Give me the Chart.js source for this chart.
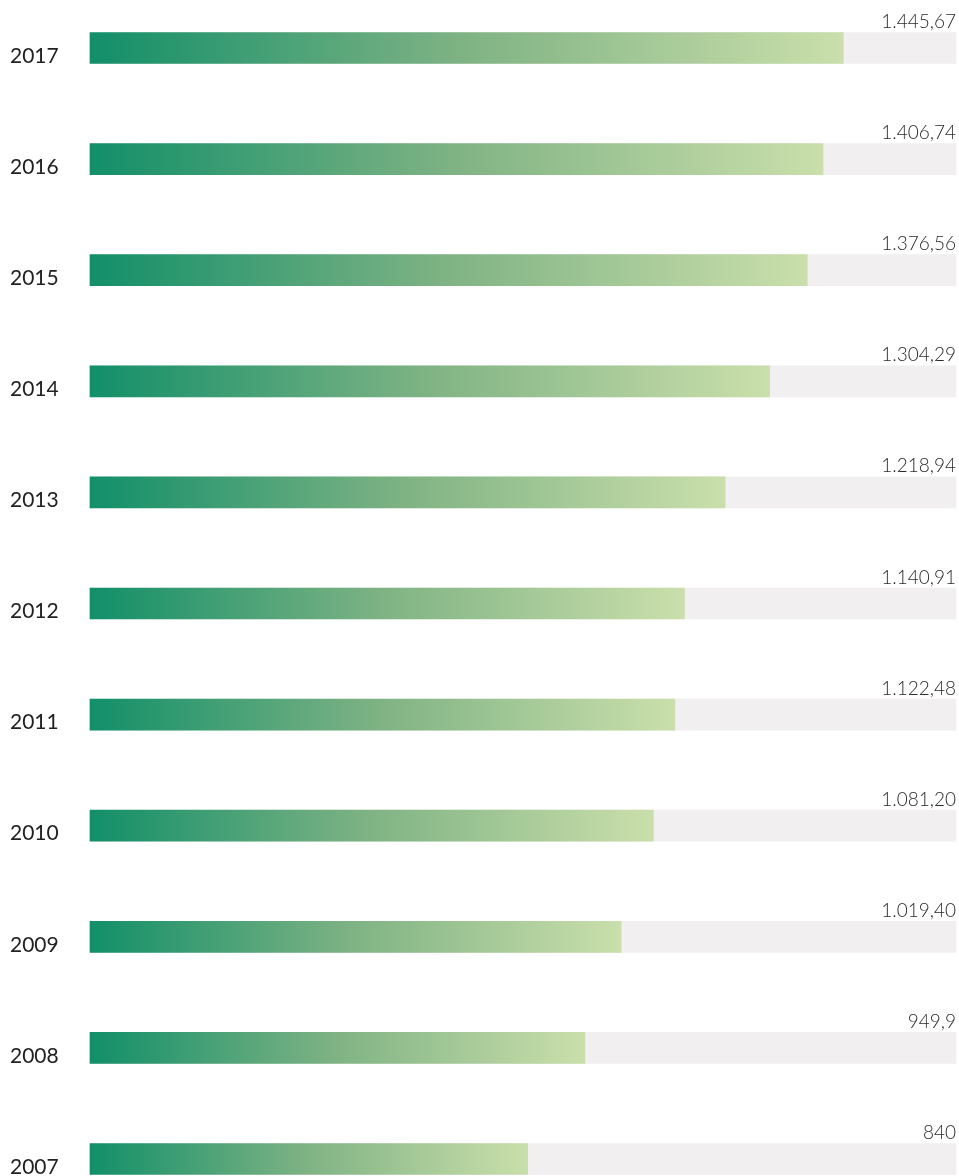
<!DOCTYPE html>
<html>
<head>
<meta charset="utf-8">
<script src="https://cdn.jsdelivr.net/npm/chart.js@4/dist/chart.umd.min.js"></script>
<style>
  html, body { margin: 0; padding: 0; background: #fff; }
  canvas { display: block; }
</style>
</head>
<body>
<canvas id="chart" width="959" height="1176"></canvas>
<script>
const years = ["2017", "2016", "2015", "2014", "2013", "2012", "2011", "2010", "2009", "2008", "2007"];
const values = [1445.67, 1406.74, 1376.56, 1304.29, 1218.94, 1140.91, 1122.48, 1081.20, 1019.40, 949.9, 840];
const valueLabels = ["1.445,67", "1.406,74", "1.376,56", "1.304,29", "1.218,94", "1.140,91", "1.122,48", "1.081,20", "1.019,40", "949,9", "840"];
const axisMax = 1662;

const ctx = document.getElementById("chart");

// gradient runs across each bar's own length
const barGradient = (context) => {
  const chart = context.chart;
  const area = chart.chartArea;
  if (!area || context.type !== "data") return "#5fa07a";
  const xEnd = chart.scales.x.getPixelForValue(context.raw);
  const g = chart.ctx.createLinearGradient(area.left, 0, xEnd, 0);
  g.addColorStop(0, "#128f69");
  g.addColorStop(0.5, "#80b384");
  g.addColorStop(1, "#cadfab");
  return g;
};

const valueLabelPlugin = {
  id: "valueLabels",
  afterDatasetsDraw(chart) {
    const meta = chart.getDatasetMeta(1);
    const c = chart.ctx;
    c.save();
    c.font = "300 19px Lato";
    c.fillStyle = "#2a2a2a";
    c.textAlign = "right";
    c.textBaseline = "alphabetic";
    meta.data.forEach((bar, i) => {
      c.fillText(valueLabels[i], chart.chartArea.right, bar.y - 20);
    });
    c.restore();
  },
};

new Chart(ctx, {
  type: "bar",
  data: {
    labels: years,
    datasets: [
      {
        data: years.map(() => axisMax),
        backgroundColor: "#f1eff0",
        barThickness: 31,
        grouped: false,
        order: 2,
        clip: false,
      },
      {
        data: values,
        backgroundColor: barGradient,
        barThickness: 31,
        grouped: false,
        order: 1,
        clip: false,
      },
    ],
  },
  options: {
    indexAxis: "y",
    responsive: false,
    animation: false,
    layout: { padding: { left: 10, right: 3, top: 48, bottom: 17 } },
    scales: {
      x: {
        min: 0,
        max: axisMax,
        display: false,
      },
      y: {
        offset: false,
        grid: { display: false },
        border: { display: false },
        ticks: {
          autoSkip: false,
          crossAlign: "far",
          labelOffset: 8,
          color: "#222",
          font: { family: "Lato", size: 21 },
        },
        afterFit(scale) {
          scale.width = 80;
        },
      },
    },
    plugins: {
      legend: { display: false },
      tooltip: { enabled: false },
    },
  },
  plugins: [valueLabelPlugin],
});
</script>
</body>
</html>
